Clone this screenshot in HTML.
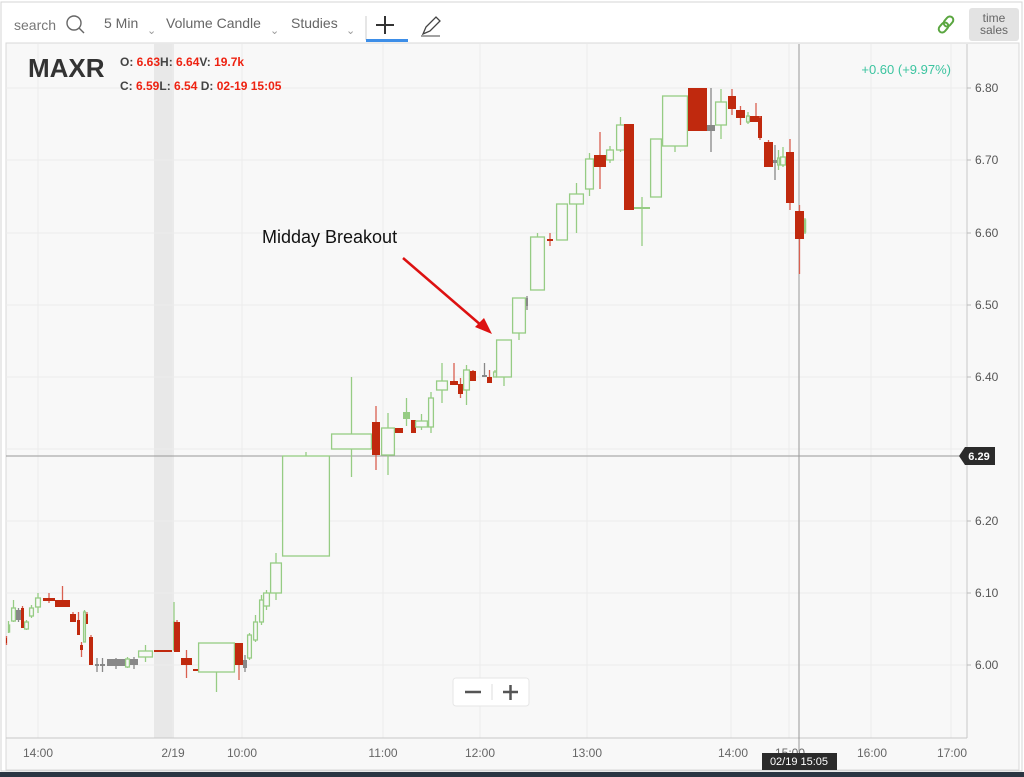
<!DOCTYPE html>
<html><head><meta charset="utf-8"><style>
html,body{margin:0;padding:0;background:#fff;width:1024px;height:777px;overflow:hidden;font-family:"Liberation Sans",sans-serif;}
</style></head><body>
<svg width="1024" height="777" xmlns="http://www.w3.org/2000/svg" font-family="Liberation Sans, sans-serif">
<rect x="0" y="0" width="1024" height="777" fill="#fff"/>
<rect x="1" y="2" width="1021" height="769" fill="#fff" stroke="#d4d4d4"/>
<rect x="0" y="772" width="1024" height="5" fill="#2a3542"/>
<!-- toolbar -->
<rect x="14" y="10" width="88" height="29" fill="#fff"/>
<text x="14" y="30" font-size="14" fill="#777">search</text>
<circle cx="74" cy="23" r="7" fill="none" stroke="#666" stroke-width="1.4"/>
<line x1="79" y1="28" x2="84" y2="33" stroke="#666" stroke-width="1.4"/>
<text x="104" y="28" font-size="14" fill="#666">5 Min</text>
<text x="147" y="34" font-size="11" fill="#999">⌄</text>
<text x="166" y="28" font-size="14" fill="#666">Volume Candle</text>
<text x="270" y="34" font-size="11" fill="#999">⌄</text>
<text x="291" y="28" font-size="14" fill="#666">Studies</text>
<text x="346" y="34" font-size="11" fill="#999">⌄</text>
<line x1="366" y1="16" x2="366" y2="40" stroke="#ccc"/>
<line x1="385" y1="16" x2="385" y2="34" stroke="#333" stroke-width="2"/>
<line x1="376" y1="25" x2="394" y2="25" stroke="#333" stroke-width="2"/>
<rect x="366" y="39" width="42" height="3" fill="#3d8ee8"/>
<path d="M423 34 L426 27 L436 17 L440 21 L430 31 Z" fill="none" stroke="#444" stroke-width="1.3"/>
<line x1="421" y1="36" x2="440" y2="36" stroke="#444" stroke-width="1"/>
<g fill="none" stroke="#5aa640" stroke-width="2">
<rect x="940" y="22" width="7" height="11" rx="3.5" transform="rotate(40 943.5 27.5)"/>
<rect x="945" y="16" width="7" height="11" rx="3.5" transform="rotate(40 948.5 21.5)"/>
</g>
<rect x="969" y="8" width="50" height="33" rx="3" fill="#e3e3e3"/>
<text x="994" y="22" font-size="12" fill="#666" text-anchor="middle">time</text>
<text x="994" y="34" font-size="12" fill="#666" text-anchor="middle">sales</text>
<!-- chart area -->
<rect x="6" y="43" width="1013" height="727" fill="#f8f8f8" stroke="#d8d8d8"/>
<rect x="154" y="44" width="20" height="694" fill="#e8e8e8"/>
<g stroke="#ececec" stroke-width="1">
<line x1="38" y1="44" x2="38" y2="738"/><line x1="173" y1="44" x2="173" y2="738"/><line x1="242" y1="44" x2="242" y2="738"/>
<line x1="383" y1="44" x2="383" y2="738"/><line x1="480" y1="44" x2="480" y2="738"/><line x1="587" y1="44" x2="587" y2="738"/>
<line x1="731" y1="44" x2="731" y2="738"/><line x1="789" y1="44" x2="789" y2="738"/><line x1="871" y1="44" x2="871" y2="738"/><line x1="951" y1="44" x2="951" y2="738"/>
<line x1="6" y1="88" x2="967" y2="88"/><line x1="6" y1="160" x2="967" y2="160"/><line x1="6" y1="233" x2="967" y2="233"/>
<line x1="6" y1="305" x2="967" y2="305"/><line x1="6" y1="377" x2="967" y2="377"/><line x1="6" y1="449" x2="967" y2="449"/>
<line x1="6" y1="521" x2="967" y2="521"/><line x1="6" y1="593" x2="967" y2="593"/><line x1="6" y1="665" x2="967" y2="665"/>
</g>
<line x1="967" y1="44" x2="967" y2="738" stroke="#c8c8c8"/>
<line x1="6" y1="738" x2="967" y2="738" stroke="#c8c8c8"/>
<!-- y labels -->
<g font-size="12" fill="#555">
<text x="975" y="92">6.80</text><text x="975" y="164">6.70</text><text x="975" y="237">6.60</text><text x="975" y="309">6.50</text>
<text x="975" y="381">6.40</text><text x="975" y="525">6.20</text><text x="975" y="597">6.10</text><text x="975" y="669">6.00</text>
</g>
<g stroke="#bbb"><line x1="967" y1="88" x2="971" y2="88"/><line x1="967" y1="160" x2="971" y2="160"/><line x1="967" y1="233" x2="971" y2="233"/><line x1="967" y1="305" x2="971" y2="305"/><line x1="967" y1="377" x2="971" y2="377"/><line x1="967" y1="521" x2="971" y2="521"/><line x1="967" y1="593" x2="971" y2="593"/><line x1="967" y1="665" x2="971" y2="665"/></g>
<!-- x labels -->
<g font-size="12" fill="#666" text-anchor="middle">
<text x="38" y="757">14:00</text><text x="173" y="757">2/19</text><text x="242" y="757">10:00</text><text x="383" y="757">11:00</text>
<text x="480" y="757">12:00</text><text x="587" y="757">13:00</text><text x="733" y="757">14:00</text><text x="790" y="757">15:00</text>
<text x="872" y="757">16:00</text><text x="952" y="757">17:00</text>
</g>
<!-- crosshair -->
<line x1="6" y1="456" x2="967" y2="456" stroke="#999"/>
<line x1="799" y1="44" x2="799" y2="752" stroke="#999"/>
<path d="M959 456 L965 447 L995 447 L995 465 L965 465 Z" fill="#2b2b2b"/>
<text x="979" y="460" font-size="11" fill="#fff" text-anchor="middle" font-weight="bold">6.29</text>
<rect x="762" y="753" width="75" height="17" fill="#2b2b2b"/>
<text x="799" y="765" font-size="11" fill="#fff" text-anchor="middle">02/19 15:05</text>
<!-- candles -->
<g id="c" stroke-width="1.3"></g>
<!-- header text -->
<text x="28" y="77" font-size="26" font-weight="bold" fill="#333">MAXR</text>
<g font-size="12" font-weight="bold">
<text x="120" y="66" fill="#444">O: <tspan fill="#e21">6.63</tspan>H: <tspan fill="#e21">6.64</tspan>V: <tspan fill="#e21">19.7k</tspan></text>
<text x="120" y="90" fill="#444">C: <tspan fill="#e21">6.59</tspan>L: <tspan fill="#e21">6.54</tspan> D: <tspan fill="#e21">02-19 15:05</tspan></text>
</g>
<text x="951" y="74" font-size="13" fill="#3cc4a0" text-anchor="end">+0.60 (+9.97%)</text>
<!-- annotation -->
<text x="262" y="243" font-size="18" fill="#111">Midday Breakout</text>
<line x1="403" y1="258" x2="482" y2="326" stroke="#d11" stroke-width="2.5"/>
<path d="M492 334 L475 327 L484 318 Z" fill="#d11"/>
<!-- zoom -->
<rect x="453" y="678" width="76" height="28" rx="3" fill="#fff" stroke="#e6e6e6"/>
<line x1="465" y1="692" x2="481" y2="692" stroke="#555" stroke-width="2.5"/>
<line x1="492" y1="684" x2="492" y2="700" stroke="#ddd"/>
<line x1="503" y1="692" x2="518" y2="692" stroke="#555" stroke-width="2.5"/>
<line x1="510.5" y1="685" x2="510.5" y2="700" stroke="#555" stroke-width="2.5"/>
</svg>
<script>
var d=[
[6,7,638,643,636,645,'r'],[8,9,625,632,621,633,'g'],[11,16,608,621,600,622,'g'],[16,21,610,620,608,622,'k'],[21,24,608,628,606,628,'r'],
[24,29,622,629,620,630,'g'],[29,34,608,616,605,618,'g'],[35,41,598,607,593,613,'g'],[43,55,598,601,593,603,'r'],[55,70,600,607,586,607,'r'],
[70,76,614,622,612,622,'r'],[77,80,620,635,612,635,'r'],[80,83,645,650,642,657,'r'],[83,86,612,642,610,642,'g'],[86,88,614,624,612,624,'r'],
[89,93,637,665,635,665,'r'],[95,99,664,666,658,672,'k'],[100,105,664,666,658,672,'k'],[107,125,659,666,658,669,'k'],[125,130,659,667,657,668,'g'],
[130,138,659,665,657,669,'k'],[138,153,651,657,645,662,'g'],[154,172,650,652,650,652,'r'],[173,175,622,650,602,650,'g'],[174,180,622,652,620,652,'r'],
[181,192,658,665,650,678,'r'],[193,198,669,671,669,671,'r'],[198,235,643,672,643,692,'g'],[235,243,643,665,643,680,'r'],[243,247,660,668,655,672,'k'],
[247,252,635,658,633,660,'g'],[253,258,622,640,615,642,'g'],[259,264,600,622,595,625,'g'],[263,270,593,606,590,610,'g'],[270,282,563,593,553,600,'g'],
[282,330,456,556,452,556,'g'],[331,372,434,449,377,477,'g'],[372,380,422,455,406,470,'r'],[381,395,428,455,413,475,'g'],[395,403,428,433,428,433,'r'],
[403,410,412,419,398,426,'gf'],[411,416,420,433,420,433,'r'],[415,428,421,427,414,430,'g'],[428,434,398,427,392,433,'g'],[436,448,381,390,363,403,'g'],
[450,458,381,385,363,385,'r'],[458,463,384,394,378,398,'r'],[463,470,370,390,365,405,'g'],[470,476,371,381,370,381,'r'],[482,487,375,377,363,377,'k'],
[487,492,377,383,370,383,'r'],[493,497,372,377,370,377,'g'],[496,512,340,377,340,386,'g'],[512,526,298,333,298,340,'g'],[526,528,298,306,296,310,'k'],
[530,545,237,290,233,290,'g'],[547,553,239,241,233,246,'r'],[556,568,204,240,204,240,'g'],[569,584,194,204,183,233,'g'],[585,594,159,189,153,196,'g'],
[594,606,155,167,132,189,'r'],[606,614,150,160,146,163,'g'],[616,625,125,150,117,152,'g'],[624,634,124,210,124,210,'r'],[634,650,207,209,197,246,'gf'],
[650,662,139,197,139,197,'g'],[662,688,96,146,96,152,'g'],[688,707,88,131,88,131,'r'],[707,715,125,131,88,152,'k'],[715,727,102,125,89,139,'g'],
[728,736,96,109,89,115,'r'],[736,745,110,118,106,125,'r'],[746,750,116,122,112,124,'g'],[750,762,116,122,103,122,'r'],[758,762,118,138,116,140,'r'],
[764,773,142,167,140,167,'r'],[773,777,160,163,145,180,'k'],[777,780,158,165,150,170,'g'],[780,786,157,165,147,167,'g'],[786,794,152,203,139,210,'r'],
[795,804,211,239,205,274,'r'],[804,806,220,232,218,234,'g']
];
var g=document.getElementById('c'),h='';
d.forEach(function(c){var col=c[6]=='r'?'#c0290e':(c[6]=='k'?'#888':'#96cc84');var cx=(c[0]+c[1])/2;
h+='<line x1="'+cx+'" x2="'+cx+'" y1="'+c[4]+'" y2="'+c[5]+'" stroke="'+(c[6]=='r'?'#d96050':col)+'"/>';
var w=c[1]-c[0],hh=Math.max(c[3]-c[2],1.5);
if(c[6]=='g')h+='<rect x="'+(c[0]+0.6)+'" y="'+c[2]+'" width="'+Math.max(w-1.2,1)+'" height="'+hh+'" fill="#f8f8f8" stroke="'+col+'"/>';
else h+='<rect x="'+c[0]+'" y="'+c[2]+'" width="'+w+'" height="'+hh+'" fill="'+col+'" stroke="none"/>';});
g.innerHTML=h;
</script>
</body></html>
